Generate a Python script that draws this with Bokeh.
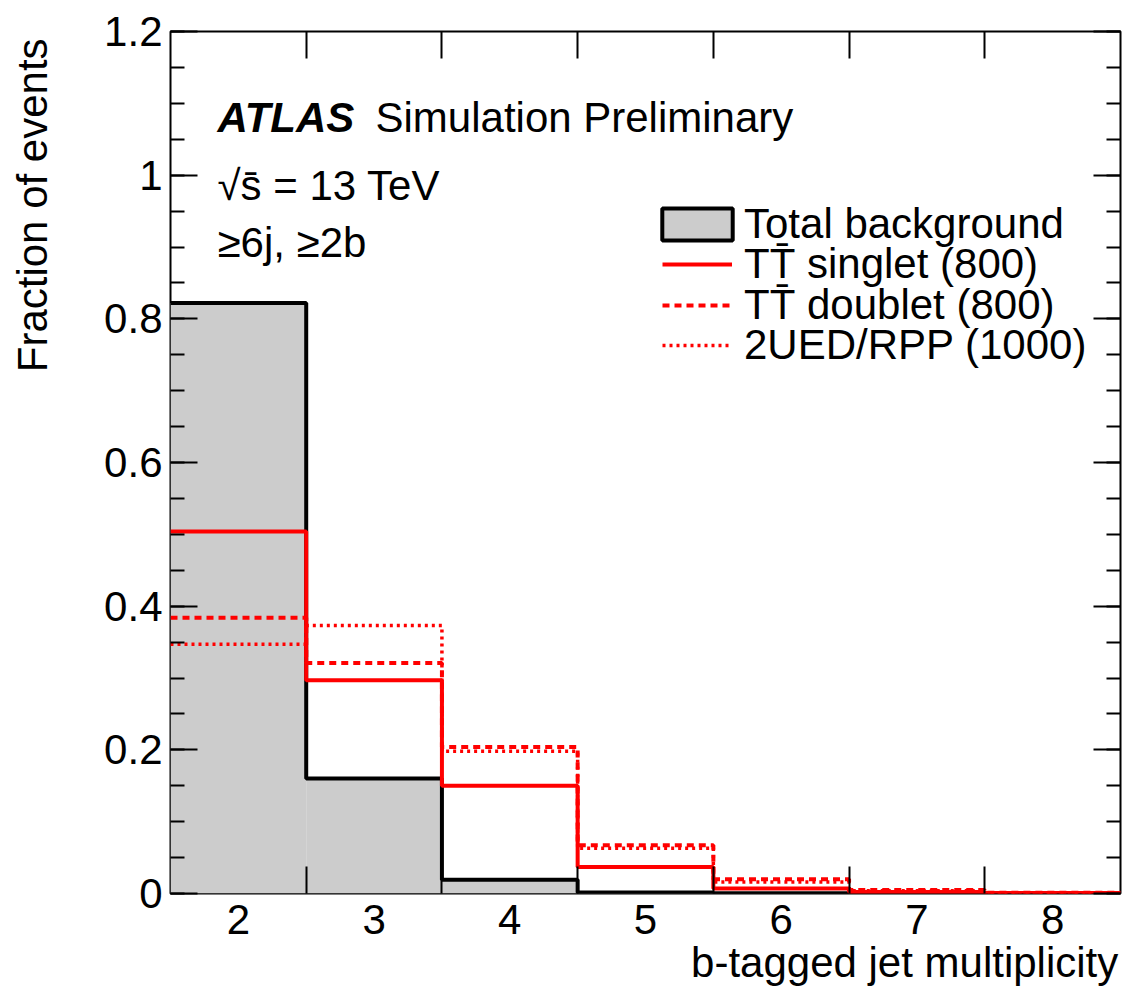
import math
from bokeh.plotting import figure
from bokeh.models import (FixedTicker, LinearAxis, Label, Legend, LegendItem,
                          CustomJSTickFormatter, Range1d)
from bokeh.embed import file_html
from bokeh.resources import INLINE

# ---------------- data ----------------
bins = [2, 3, 4, 5, 6, 7, 8]
bin_labels = ["2", "3", "4", "5", "6", "7", "8"]
background = [0.822, 0.160, 0.019, 0.0015, 0.0005, 0.0002, 0.0001]
singlet = [0.504, 0.297, 0.150, 0.037, 0.007, 0.002, 0.0006]
doublet = [0.384, 0.321, 0.204, 0.067, 0.020, 0.005, 0.001]
ued_rpp = [0.347, 0.373, 0.198, 0.063, 0.016, 0.004, 0.001]

y_ticks = [0.0, 0.2, 0.4, 0.6, 0.8, 1.0, 1.2]
y_tick_labels = ["0", "0.2", "0.4", "0.6", "0.8", "1", "1.2"]
y_minor_ticks = [round(0.05 * i, 2) for i in range(25)]

series_labels = ["Total background",
                 "TT\u0304 singlet (800)",
                 "TT\u0304 doublet (800)",
                 "2UED/RPP (1000)"]
x_title = "b-tagged jet multiplicity"
y_title = "Fraction of events"

# Bokeh centres an end-aligned axis label on the axis end; invisible
# trailing spacing moves the visible words so they end at the axis end.
EM, NB = "\u2003", "\u00a0"
x_title_padded = x_title + EM * 10 + NB * 1
y_title_padded = y_title + EM * 8 + NB * 1

# derived bin geometry
edges_left = [b - 0.5 for b in bins]
edges_right = [b + 0.5 for b in bins]
inner_edges = edges_right[:-1]
step_x = edges_left + [edges_right[-1]]


def step_y(v):
    return list(v) + [v[-1]]


FONT = "Liberation Sans"
FS = "42px"

p = figure(width=1124, height=988,
           x_range=Range1d(1.5, 8.5), y_range=Range1d(0, 1.2),
           output_backend="svg", toolbar_location=None,
           x_axis_type=None, y_axis_type=None,
           min_border_left=170, min_border_right=4,
           min_border_top=31, min_border_bottom=95)
p.outline_line_color = "black"
p.outline_line_width = 2
p.background_fill_color = "white"
p.border_fill_color = "white"

empty = CustomJSTickFormatter(code="return ''")


def x_axis(show):
    ax = LinearAxis(ticker=FixedTicker(ticks=bins, minor_ticks=inner_edges),
                    major_tick_in=0, major_tick_out=0,
                    minor_tick_in=27, minor_tick_out=0,
                    minor_tick_line_width=2, minor_tick_line_color="black",
                    axis_line_color=None)
    if show:
        ax.major_label_overrides = {b: l for b, l in zip(bins, bin_labels)}
        ax.major_label_standoff = 11
        ax.major_label_text_font = FONT
        ax.major_label_text_font_size = FS
        ax.major_label_text_color = "black"
    else:
        ax.formatter = empty
        ax.major_label_standoff = 0
        ax.major_label_text_font_size = "0px"
    return ax


def y_axis(show):
    ax = LinearAxis(ticker=FixedTicker(ticks=y_ticks, minor_ticks=y_minor_ticks),
                    major_tick_in=27, major_tick_out=0,
                    minor_tick_in=14, minor_tick_out=0,
                    major_tick_line_width=2, minor_tick_line_width=2,
                    major_tick_line_color="black", minor_tick_line_color="black",
                    axis_line_color=None)
    if show:
        ax.major_label_overrides = {t: l for t, l in zip(y_ticks, y_tick_labels)}
        ax.major_label_standoff = 8
        ax.major_label_text_font = FONT
        ax.major_label_text_font_size = FS
        ax.major_label_text_color = "black"
    else:
        ax.formatter = empty
        ax.major_label_standoff = 0
        ax.major_label_text_font_size = "0px"
    return ax


xb = x_axis(True)
yl = y_axis(True)
for ax, txt, so in ((xb, x_title_padded, 2), (yl, y_title_padded, 45)):
    ax.axis_label = txt
    ax.axis_label_align = "end"
    ax.axis_label_standoff = so
    ax.axis_label_text_font = FONT
    ax.axis_label_text_font_size = FS
    ax.axis_label_text_font_style = "normal"
    ax.axis_label_text_color = "black"

p.add_layout(xb, "below")
p.add_layout(x_axis(False), "above")
p.add_layout(yl, "left")
p.add_layout(y_axis(False), "right")

# ---------------- histograms ----------------
bg_fill = p.quad(left=edges_left, right=edges_right, bottom=0, top=background,
                 fill_color="#cccccc", line_color=None)
bg_line = p.step(x=step_x, y=step_y(background), mode="after",
                 line_color="black", line_width=4)
bg_leg = p.quad(left=edges_left, right=edges_right, bottom=0, top=background,
                fill_color="#cccccc", line_color="black", line_width=4,
                visible=False)
s_line = p.step(x=step_x, y=step_y(singlet), mode="after",
                line_color="#ff0000", line_width=4)
d_line = p.step(x=step_x, y=step_y(doublet), mode="after",
                line_color="#ff0000", line_width=4, line_dash="7 5")
u_line = p.step(x=step_x, y=step_y(ued_rpp), mode="after",
                line_color="#ff0000", line_width=3.5, line_dash="3 4")

# one legend per entry so each row can be placed exactly
# (label, renderer, legend x, legend y, glyph width, glyph height, standoff)
legend_rows = [(series_labels[0], bg_leg, 483, 639, 88, 40, 3),
               (series_labels[1], s_line, 492, 599, 70, 32, 12),
               (series_labels[2], d_line, 492, 558, 70, 32, 12),
               (series_labels[3], u_line, 492, 518, 70, 32, 12)]
for text, rend, lx, ly, gw, gh, so in legend_rows:
    lg = Legend(items=[LegendItem(label=text, renderers=[rend])],
                location=(lx, ly), orientation="vertical",
                padding=0, margin=0, spacing=0,
                glyph_width=gw, glyph_height=gh, label_height=60,
                label_standoff=so,
                label_text_font=FONT, label_text_font_size=FS,
                label_text_color="black",
                border_line_color=None, background_fill_alpha=0)
    p.add_layout(lg)


# ---------------- texts ----------------
def lab(text, x, y, **kw):
    opts = dict(x=x, y=y, x_units="screen", y_units="screen", text=text,
                text_font=FONT, text_font_size=FS, text_color="black",
                text_baseline="alphabetic")
    opts.update(kw)
    p.add_layout(Label(**opts))


lab("ATLAS", 47, 776, text_font_style="bold italic")
lab("Simulation Preliminary", 205, 776)
lab("\u221as\u0304 = 13 TeV", 47, 708)
lab("\u22656j, \u22652b", 47, 651)

open("out.html", "w").write(file_html(p, INLINE))
